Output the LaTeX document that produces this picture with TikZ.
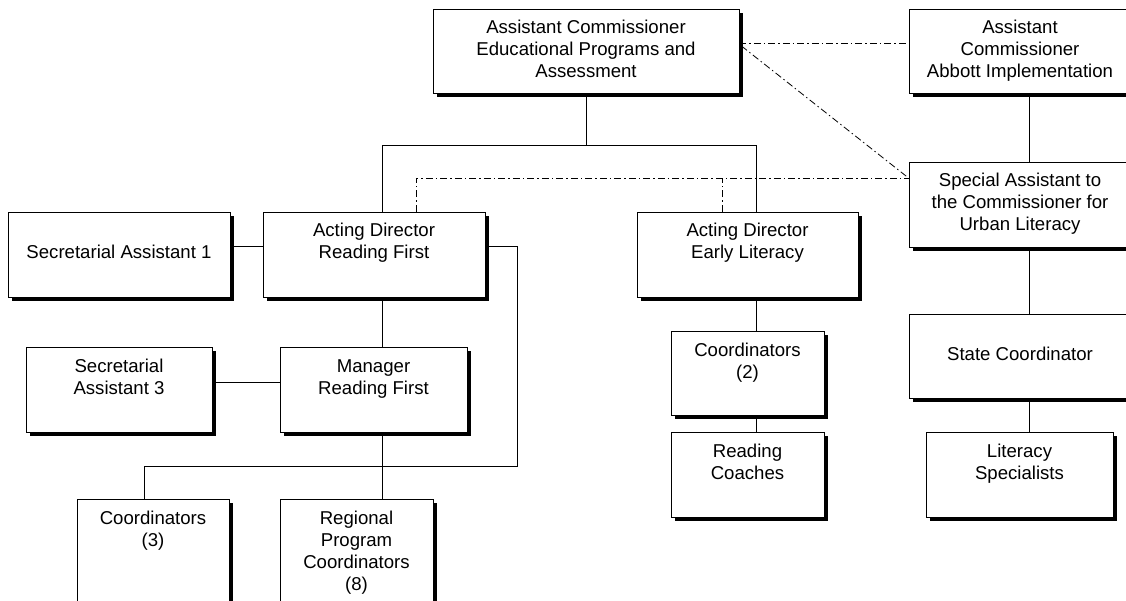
\documentclass[tikz,border=0pt]{standalone}
\usepackage{fontspec}
\setmainfont{Liberation Sans}
\usetikzlibrary{shadows}
\newcommand{\bxt}[3]{\parbox[c][#2][t]{#1}{\centering\vspace*{9.6pt}\strut #3}}
\tikzset{
  orgbox/.style={draw=black, line width=0.9pt, fill=white, inner sep=0pt,
    drop shadow={shadow xshift=4pt, shadow yshift=-4pt, fill=black, opacity=1}},
  conn/.style={draw=black, line width=0.9pt},
  dd/.style={draw=black, line width=0.8pt, dash pattern=on 7pt off 3pt on 1.5pt off 3pt}
}
\begin{document}
\begin{tikzpicture}[x=1pt, y=-1pt, font=\fontsize{18.6}{22}\selectfont]
\useasboundingbox (0,0) rectangle (1126,601);
\fill[white] (0,0) rectangle (1126,601);
\clip (0,0) rectangle (1126,601);

% boxes
\node[orgbox] (top) at (586,51) {\bxt{306pt}{84pt}{Assistant Commissioner\\Educational Programs and\\Assessment}};
\node[orgbox] (abbott) at (1020,51) {\bxt{222pt}{84pt}{Assistant\\Commissioner\\Abbott Implementation}};
\node[orgbox] (special) at (1020,204.5) {\bxt{222pt}{85pt}{Special Assistant to\\the Commissioner for\\Urban Literacy}};
\node[orgbox] (sa1) at (119,254.5) {\bxt{222pt}{85pt}{\\Secretarial Assistant 1}};
\node[orgbox] (adrf) at (374,254.5) {\bxt{222pt}{85pt}{Acting Director\\Reading First}};
\node[orgbox] (adel) at (747.5,254.5) {\bxt{221pt}{85pt}{Acting Director\\Early Literacy}};
\node[orgbox] (sa3) at (119,389.5) {\bxt{186pt}{85pt}{Secretarial\\Assistant 3}};
\node[orgbox] (mgr) at (373.5,389.5) {\bxt{187pt}{85pt}{Manager\\Reading First}};
\node[orgbox] (coord3) at (153,569) {\bxt{152pt}{140pt}{Coordinators\\(3)}};
\node[orgbox] (regional) at (356.5,569) {\bxt{153pt}{140pt}{Regional\\Program\\Coordinators\\(8)}};
\node[orgbox] (coord2) at (747.5,373) {\bxt{153pt}{84pt}{Coordinators\\(2)}};
\node[orgbox] (coaches) at (747.5,474.5) {\bxt{153pt}{85pt}{Reading\\Coaches}};
\node[orgbox] (state) at (1020,356) {\bxt{222pt}{84pt}{\\State Coordinator}};
\node[orgbox] (litspec) at (1019.5,474.5) {\bxt{187pt}{85pt}{Literacy\\Specialists}};

% helper coordinates
\coordinate (bl) at (382,145);
\coordinate (br) at (756,145);
\coordinate (y1) at (0,246);
\coordinate (y2) at (0,382);
\coordinate (y3) at (0,466);
\coordinate (xr1) at (517,0);
\coordinate (xc3) at (144,0);
\coordinate (xr) at (1029,0);
\coordinate (hy) at (0,43);
\coordinate (dy) at (0,178);
\coordinate (xa) at (416,0);
\coordinate (xb) at (722,0);

% solid connectors
\draw[conn] (top.south) -- (top.south |- bl);
\draw[conn] (bl |- adrf.north) -- (bl) -- (br) -- (br |- adel.north);
\draw[conn] (sa1.east |- y1) -- (adrf.west |- y1);
\draw[conn] (adrf.east |- y1) -- (xr1 |- y1) -- (xr1 |- y3) -- (xc3 |- y3) -- (xc3 |- coord3.north);
\draw[conn] (bl |- adrf.south) -- (bl |- mgr.north);
\draw[conn] (bl |- mgr.south) -- (bl |- regional.north);
\draw[conn] (sa3.east |- y2) -- (mgr.west |- y2);
\draw[conn] (br |- adel.south) -- (br |- coord2.north);
\draw[conn] (br |- coord2.south) -- (br |- coaches.north);
\draw[conn] (xr |- abbott.south) -- (xr |- special.north);
\draw[conn] (xr |- special.south) -- (xr |- state.north);
\draw[conn] (xr |- state.south) -- (xr |- litspec.north);

% dash-dot connectors
\draw[dd] (top.east |- hy) -- (abbott.west |- hy);
\draw[dd] ([xshift=2pt,yshift=5pt]top.east) -- (special.west |- dy);
\draw[dd] (xa |- adrf.north) -- (xa |- dy) -- (special.west |- dy);
\draw[dd] (xb |- adel.north) -- (xb |- dy);
\end{tikzpicture}
\end{document}
